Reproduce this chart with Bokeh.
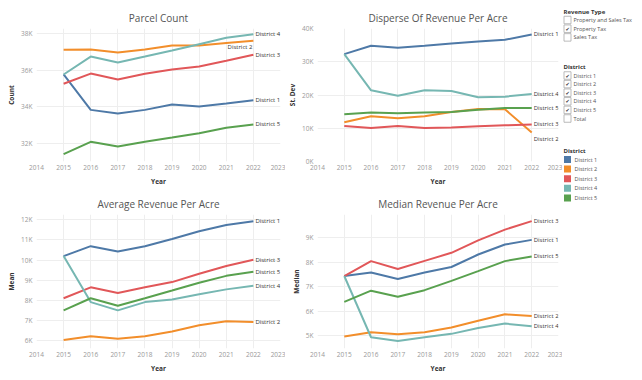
from bokeh.plotting import figure
from bokeh.layouts import row, column
from bokeh.models import Range1d, FixedTicker, Label
from bokeh.core.properties import value
from bokeh.embed import file_html
from bokeh.resources import INLINE

FONT = "Open Sans"

# ---------------- data ----------------
years = [2015, 2016, 2017, 2018, 2019, 2020, 2021, 2022]
year_ticks = [2014, 2015, 2016, 2017, 2018, 2019, 2020, 2021, 2022, 2023]
districts = ["District 1", "District 2", "District 3", "District 4", "District 5"]
colors = ["#4E79A7", "#F28E2B", "#E15759", "#76B7B2", "#59A14F"]

# Parcel Count
count_d1 = [35770, 33830, 33630, 33830, 34120, 34010, 34180, 34360]
count_d2 = [37120, 37140, 36970, 37140, 37360, 37360, 37500, 37620]
count_d3 = [35260, 35820, 35490, 35810, 36040, 36210, 36520, 36850]
count_d4 = [35770, 36750, 36430, 36750, 37080, 37430, 37780, 37980]
count_d5 = [31400, 32080, 31820, 32080, 32310, 32550, 32850, 33030]
count_ticks = [32000, 34000, 36000, 38000]
count_tick_labels = ["32K", "34K", "36K", "38K"]

# Disperse (St. Dev) of revenue per acre
sd_d1 = [32300, 34800, 34200, 34800, 35500, 36100, 36600, 38200]
sd_d2 = [11800, 13600, 13000, 13600, 14900, 15800, 15700, 8700]
sd_d3 = [10700, 10100, 10700, 10100, 10200, 10600, 10900, 11100]
sd_d4 = [32300, 21400, 19800, 21400, 21200, 19300, 19500, 20300]
sd_d5 = [14200, 14700, 14500, 14700, 14900, 15600, 16100, 16100]
sd_ticks = [0, 10000, 20000, 30000, 40000]
sd_tick_labels = ["0K", "10K", "20K", "30K", "40K"]

# Average (mean) revenue per acre
mean_d1 = [10200, 10690, 10430, 10690, 11050, 11430, 11740, 11930]
mean_d2 = [6040, 6230, 6100, 6230, 6460, 6770, 6970, 6930]
mean_d3 = [8110, 8650, 8370, 8650, 8910, 9320, 9710, 10020]
mean_d4 = [10200, 7920, 7510, 7920, 8050, 8310, 8550, 8730]
mean_d5 = [7510, 8110, 7740, 8110, 8490, 8880, 9220, 9420]
mean_ticks = [6000, 7000, 8000, 9000, 10000, 11000, 12000]
mean_tick_labels = ["6K", "7K", "8K", "9K", "10K", "11K", "12K"]

# Median revenue per acre
med_d1 = [7440, 7580, 7320, 7580, 7810, 8320, 8730, 8920]
med_d2 = [4960, 5140, 5050, 5140, 5330, 5610, 5870, 5800]
med_d3 = [7440, 8050, 7730, 8060, 8390, 8900, 9340, 9690]
med_d4 = [7440, 4930, 4780, 4930, 5070, 5310, 5490, 5380]
med_d5 = [6380, 6840, 6590, 6860, 7240, 7640, 8050, 8240]
med_ticks = [5000, 6000, 7000, 8000, 9000]
med_tick_labels = ["5K", "6K", "7K", "8K", "9K"]

revenue_types = ["Property and Sales Tax", "Property Tax", "Sales Tax"]
revenue_checked = [False, True, False]
district_filter = ["District 1", "District 2", "District 3", "District 4", "District 5", "Total"]
district_checked = [True, True, True, True, True, False]


def make_panel(title, series, yr, ticks, tick_labels, ylabel, width, height,
               mb_left, mb_right, mb_top, mb_bottom, label_shift):
    p = figure(width=width, height=height, output_backend="svg", toolbar_location=None,
               x_range=Range1d(2014, 2023), y_range=Range1d(*yr),
               min_border_left=mb_left, min_border_right=mb_right,
               min_border_top=mb_top, min_border_bottom=mb_bottom)
    p.outline_line_color = None
    p.background_fill_color = "white"
    p.border_fill_color = "white"

    p.title.text = title
    p.title.align = "center"
    p.title.offset = -15
    p.title.text_font = FONT
    p.title.text_font_size = "10px"
    p.title.text_font_style = "normal"
    p.title.text_color = "#555555"
    p.title.standoff = 8

    p.xaxis.ticker = FixedTicker(ticks=year_ticks)
    p.yaxis.ticker = FixedTicker(ticks=ticks)
    p.yaxis.major_label_overrides = {t: l for t, l in zip(ticks, tick_labels)}
    for ax in (p.xaxis, p.yaxis):
        ax.axis_line_color = None
        ax.major_tick_line_color = None
        ax.minor_tick_line_color = None
        ax.major_tick_out = 0
        ax.major_tick_in = 0
        ax.major_label_text_font = FONT
        ax.major_label_text_font_size = "6.5px"
        ax.major_label_text_color = "#999999"
        ax.axis_label_text_font = FONT
        ax.axis_label_text_font_size = "6.5px"
        ax.axis_label_text_font_style = "bold"
        ax.axis_label_text_color = "#333333"
    p.xaxis.axis_label = "Year"
    p.yaxis.axis_label = ylabel
    p.xaxis.major_label_standoff = 3
    p.xaxis.axis_label_standoff = 4
    p.yaxis.major_label_standoff = 4
    p.yaxis.axis_label_standoff = 2

    p.xgrid.grid_line_color = "#eeeeee"
    p.ygrid.grid_line_color = "#eeeeee"
    p.xgrid.grid_line_width = 1
    p.ygrid.grid_line_width = 1

    for name, vals, col in zip(districts, series, colors):
        p.line(years, vals, line_color=col, line_width=2)
    for name, vals in zip(districts, series):
        dx, dy, align = label_shift.get(name, (2, 0, "left"))
        p.add_layout(Label(x=years[-1], y=vals[-1], text=name, x_offset=dx, y_offset=dy,
                           text_align=align, text_baseline="middle",
                           text_font=FONT, text_font_size="6px",
                           text_color="#333333"))
    return p


W_L, W_R, W_LEG = 285, 277, 80
H_TOP, H_BOT = 190, 190

p1 = make_panel("Parcel Count",
                [count_d1, count_d2, count_d3, count_d4, count_d5],
                (31000, 38290), count_ticks, count_tick_labels, "Count",
                W_L, H_TOP, 36, 5, 28, 29,
                {"District 2": (-1, -6, "right")})
p2 = make_panel("Disperse Of Revenue Per Acre",
                [sd_d1, sd_d2, sd_d3, sd_d4, sd_d5],
                (0, 40000), sd_ticks, sd_tick_labels, "St. Dev",
                W_R, H_TOP, 30, 4, 28, 29,
                {"District 2": (2, -6, "left"), "District 3": (2, 1, "left")})
p3 = make_panel("Average Revenue Per Acre",
                [mean_d1, mean_d2, mean_d3, mean_d4, mean_d5],
                (5620, 12260), mean_ticks, mean_tick_labels, "Mean",
                W_L, H_BOT, 36, 5, 23, 32, {})
p4 = make_panel("Median Revenue Per Acre",
                [med_d1, med_d2, med_d3, med_d4, med_d5],
                (4470, 9960), med_ticks, med_tick_labels, "Median",
                W_R, H_BOT, 30, 4, 23, 32, {})

# ---------------- legend / filter column ----------------
X0 = W_L + W_R
H_ALL = H_TOP + H_BOT
leg = figure(width=W_LEG, height=H_ALL, output_backend="svg", toolbar_location=None,
             x_range=Range1d(X0, X0 + W_LEG), y_range=Range1d(H_ALL, 0),
             x_axis_type=None, y_axis_type=None,
             min_border=0, min_border_left=0, min_border_right=0,
             min_border_top=0, min_border_bottom=0)
leg.outline_line_color = None
leg.xgrid.visible = False
leg.ygrid.visible = False

hdr_kw = dict(text_font=value(FONT), text_font_size="6px", text_font_style="bold",
              text_color="#333333", text_baseline="middle", text_align="left")
txt_kw = dict(text_font=value(FONT), text_font_size="5.5px",
              text_color="#555555", text_baseline="middle", text_align="left")

box_x = 567
text_x = 573

# Revenue Type filter
leg.text(x=[563], y=[11], text=["Revenue Type"], **hdr_kw)
rt_y = [19.5 + 8.7 * i for i in range(len(revenue_types))]
leg.rect(x=[box_x] * len(rt_y), y=rt_y, width=7, height=7.5, width_units="screen",
         height_units="screen", fill_color="white", line_color="#aaaaaa", line_width=0.8)
leg.text(x=[text_x] * len(rt_y), y=rt_y, text=revenue_types, **txt_kw)
ck_y = [y for y, c in zip(rt_y, revenue_checked) if c]
leg.text(x=[box_x] * len(ck_y), y=ck_y, text=["\u2714"] * len(ck_y),
         text_font=value("DejaVu Sans"), text_font_size="5px", text_color="#333333",
         text_align="center", text_baseline="middle")

# District filter
leg.text(x=[563], y=[66], text=["District"], **hdr_kw)
df_y = [75 + 8.6 * i for i in range(len(district_filter))]
leg.rect(x=[box_x] * len(df_y), y=df_y, width=7, height=7.5, width_units="screen",
         height_units="screen", fill_color="white", line_color="#aaaaaa", line_width=0.8)
leg.text(x=[text_x] * len(df_y), y=df_y, text=district_filter, **txt_kw)
ck_y = [y for y, c in zip(df_y, district_checked) if c]
leg.text(x=[box_x] * len(ck_y), y=ck_y, text=["\u2714"] * len(ck_y),
         text_font=value("DejaVu Sans"), text_font_size="5px", text_color="#333333",
         text_align="center", text_baseline="middle")

# Colour legend
leg.text(x=[563], y=[150], text=["District"], **hdr_kw)
cl_y = [159 + 9.6 * i for i in range(len(districts))]
leg.rect(x=[box_x] * len(cl_y), y=cl_y, width=7, height=7, width_units="screen",
         height_units="screen", fill_color=colors, line_color=None)
leg.text(x=[574] * len(cl_y), y=cl_y, text=districts, **txt_kw)

layout = row(column(p1, p3), column(p2, p4), leg)

open("out.html", "w").write(file_html(layout, INLINE))
